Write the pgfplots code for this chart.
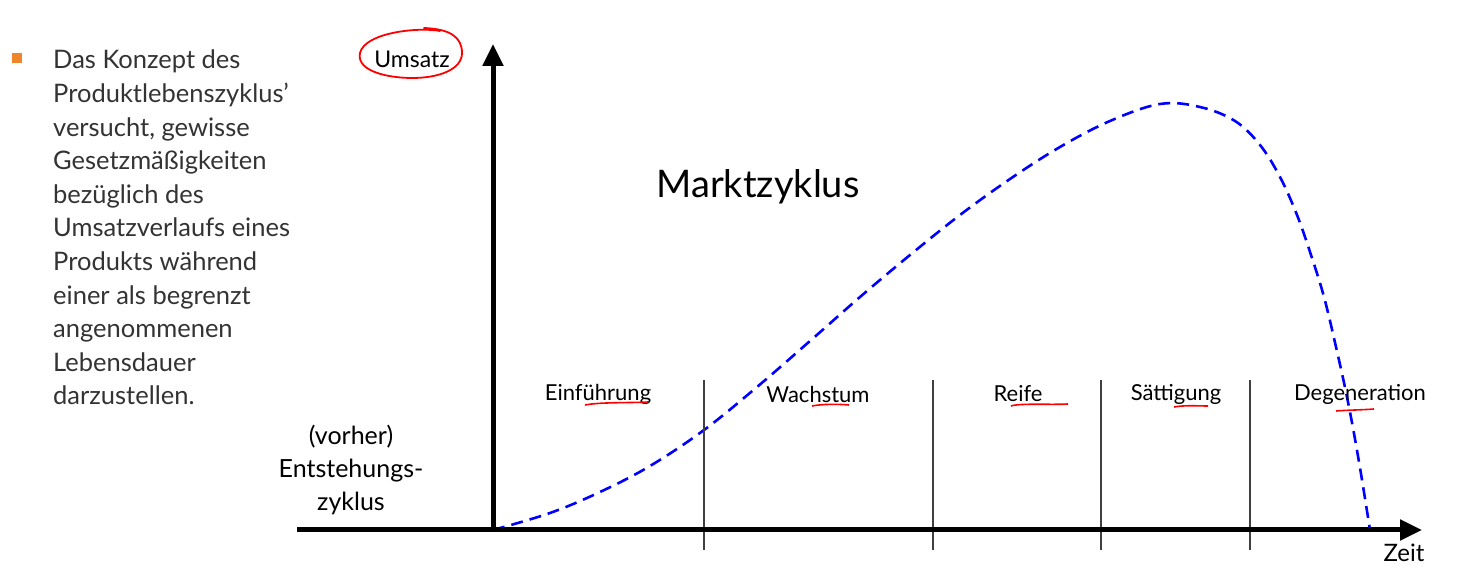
\documentclass[border=0pt]{standalone}
\usepackage{pgfplots}
\pgfplotsset{compat=1.18}
\usepackage{fontspec}
\setmainfont{Lato}
\usetikzlibrary{arrows.meta}
\definecolor{txtgray}{HTML}{333333}
\definecolor{bulletorange}{HTML}{F0862A}
\definecolor{curveblue}{HTML}{0000FF}
\begin{document}
\begin{tikzpicture}
\begin{axis}[
  hide axis,
  x=1pt, y=1pt,
  xmin=0, xmax=1458, ymin=0, ymax=577,
  scale only axis,
  clip=false,
]
% bounding frame
\path (axis cs:0,0) rectangle (axis cs:1458,577);

% sales curve (pixel coordinates, y upward)
\addplot[curveblue, line width=2.6pt, dash pattern=on 12pt off 7pt, smooth, tension=0.6] coordinates {
(493,47) (550,64) (600,85) (650,111) (704,147) (757,190) (810,236) (860,280)
(910,322) (960,362) (1010,398) (1060,430) (1110,456) (1160,473) (1200,470)
(1235,456) (1260,432) (1280,400) (1297,362) (1311,322) (1324,280) (1336,230)
(1348,175) (1359,115) (1370,47)
};

% phase separators
\draw[black!75, line width=1.1pt] (axis cs:704,27) -- (axis cs:704,197);
\draw[black!75, line width=1.1pt] (axis cs:933,27) -- (axis cs:933,197);
\draw[black!75, line width=1.1pt] (axis cs:1101,27) -- (axis cs:1101,197);
\draw[black!75, line width=1.1pt] (axis cs:1250,27) -- (axis cs:1250,197);

% axes
\draw[line width=5pt, -{Triangle[length=22pt,width=20pt]}] (axis cs:297,47) -- (axis cs:1422,47);
\draw[line width=5pt, -{Triangle[length=22pt,width=20pt]}] (axis cs:493,47) -- (axis cs:493,533);

% phase labels
\node[font=\fontsize{22}{26}\selectfont] at (axis cs:598,183) {Einführung};
\node[font=\fontsize{22}{26}\selectfont] at (axis cs:818,183) {Wachstum};
\node[font=\fontsize{22}{26}\selectfont] at (axis cs:1018,183) {Reife};
\node[font=\fontsize{22}{26}\selectfont] at (axis cs:1176,183) {Sättigung};
\node[font=\fontsize{22}{26}\selectfont] at (axis cs:1360,183) {Degeneration};

% red handwritten underlines
\draw[red, line width=1.6pt] (axis cs:585,172) .. controls (axis cs:600,175) and (axis cs:630,174) .. (axis cs:648,175);
\draw[red, line width=1.6pt] (axis cs:812,171) .. controls (axis cs:822,173) and (axis cs:838,173) .. (axis cs:849,172);
\draw[red, line width=1.6pt] (axis cs:1011,171) .. controls (axis cs:1020,174) and (axis cs:1050,172) .. (axis cs:1068,173);
\draw[red, line width=1.6pt] (axis cs:1174,170) .. controls (axis cs:1185,172) and (axis cs:1198,171) .. (axis cs:1208,171);
\draw[red, line width=1.6pt] (axis cs:1336,166) .. controls (axis cs:1348,167) and (axis cs:1362,167) .. (axis cs:1374,168);

% title
\node[font=\fontsize{38}{44}\selectfont] at (axis cs:758,390) {Marktzyklus};

% axis labels
\node[font=\fontsize{23}{27}\selectfont] at (axis cs:412,518) {Umsatz};
\draw[red, line width=1.8pt, line cap=round] (axis cs:440,546) .. controls (axis cs:420,550) and (axis cs:365,545) .. (axis cs:360,524)
  .. controls (axis cs:356,505) and (axis cs:390,499) .. (axis cs:412,499)
  .. controls (axis cs:440,499) and (axis cs:462,508) .. (axis cs:462,524)
  .. controls (axis cs:462,540) and (axis cs:450,548) .. (axis cs:424,549);
\node[font=\fontsize{24}{28}\selectfont] at (axis cs:1404,24) {Zeit};

\node[font=\fontsize{25}{33}\selectfont, align=center] at (axis cs:351,107) {(vorher)\\Entstehungs-\\zyklus};

% bullet text
\fill[bulletorange] (axis cs:12,514) rectangle (axis cs:22,524);
\node[font=\fontsize{25.5}{33.6}\selectfont, color=txtgray, align=left, anchor=north west, inner sep=0pt] at (axis cs:53,527) {Das Konzept des\\Produktlebenszyklus’\\versucht, gewisse\\Gesetzmäßigkeiten\\bezüglich des\\Umsatzverlaufs eines\\Produkts während\\einer als begrenzt\\angenommenen\\Lebensdauer\\darzustellen.};
\end{axis}
\end{tikzpicture}
\end{document}
